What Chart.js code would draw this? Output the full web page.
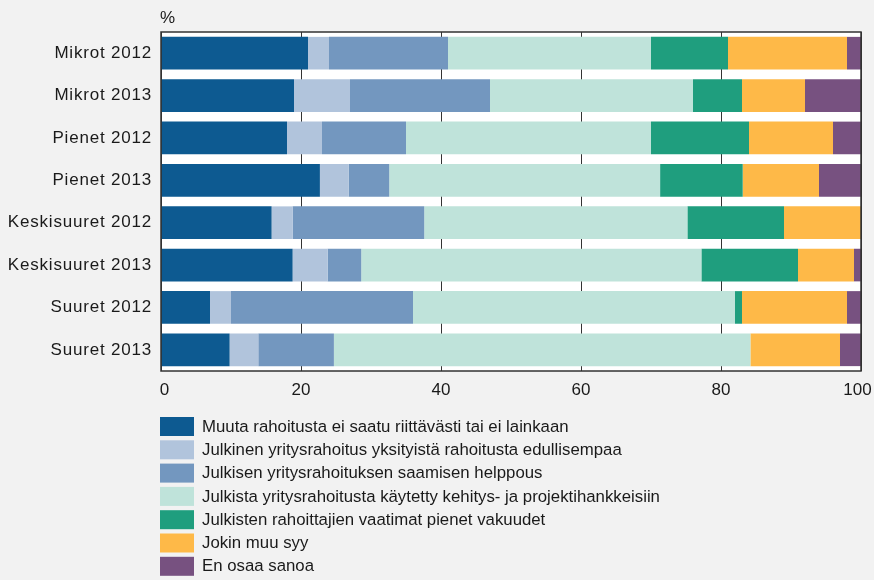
<!DOCTYPE html>
<html>
<head>
<meta charset="utf-8">
<script src="https://cdn.jsdelivr.net/npm/chart.js@4/dist/chart.umd.min.js"></script>
<style>
  html, body { margin: 0; padding: 0; background: #f2f2f2; }
  #wrap { width: 874px; height: 580px; }
</style>
</head>
<body>
<div id="wrap"><canvas id="myChart" width="874" height="580"></canvas></div>
<script>
// categories (rows, top to bottom)
var categories = ['Mikrot 2012', 'Mikrot 2013', 'Pienet 2012', 'Pienet 2013',
                  'Keskisuuret 2012', 'Keskisuuret 2013', 'Suuret 2012', 'Suuret 2013'];

// series values, % per row
var muutaRahoitusta  = [21, 19, 18, 22.7, 15.8, 18.8, 7, 9.8];
var edullisempaa     = [3, 8, 5, 4.1, 3, 5, 3, 4.1];
var helppous         = [17, 20, 12, 5.8, 18.8, 4.8, 26, 10.8];
var projektihankkeet = [29, 29, 35, 38.7, 37.6, 48.6, 46, 59.5];
var vakuudet         = [11, 7, 14, 11.8, 13.8, 13.8, 1, 0];
var muuSyy           = [17, 9, 12, 10.9, 11, 8, 15, 12.8];
var enOsaa           = [2, 8, 4, 6, 0, 1, 2, 3];

var seriesLabels = [
    'Muuta rahoitusta ei saatu riittävästi tai ei lainkaan',
    'Julkinen yritysrahoitus yksityistä rahoitusta edullisempaa',
    'Julkisen yritysrahoituksen saamisen helppous',
    'Julkista yritysrahoitusta käytetty kehitys- ja projektihankkeisiin',
    'Julkisten rahoittajien vaatimat pienet vakuudet',
    'Jokin muu syy',
    'En osaa sanoa'
];
var seriesData = [muutaRahoitusta, edullisempaa, helppous, projektihankkeet, vakuudet, muuSyy, enOsaa];
var colors = ['#0d5a91', '#b1c4dc', '#7397bf', '#bfe3da', '#1f9e7e', '#feb948', '#775180'];

var xTicks = [0, 20, 40, 60, 80, 100];

var FONT = '"Liberation Sans", Arial, sans-serif';
var TEXT = '#1a1a1a';

// white plot area, box border, % label and legend
var decor = {
    id: 'decor',
    afterLayout: function(chart) {
        // the row labels in the original are a bit wider spaced
        var ys = chart.scales.y;
        var origY = ys.drawLabels;
        ys.drawLabels = function(area) {
            var ctx = this.ctx;
            ctx.save();
            ctx.letterSpacing = '0.8px';
            origY.call(this, area);
            ctx.restore();
        };
        // first and last x labels sit a little inside the box
        var xs = chart.scales.x;
        var origX = xs._computeLabelItems;
        xs._computeLabelItems = function(area) {
            var items = origX.call(this, area);
            if (items.length) {
                items[0].options.translation[0] += 3.5;
                items[items.length - 1].options.translation[0] -= 3.5;
            }
            return items;
        };
    },
    beforeDraw: function(chart) {
        var a = chart.chartArea, ctx = chart.ctx;
        ctx.save();
        ctx.fillStyle = '#ffffff';
        ctx.fillRect(a.left, a.top, a.right - a.left, a.bottom - a.top);
        ctx.restore();
    },
    afterDraw: function(chart) {
        var a = chart.chartArea, ctx = chart.ctx;
        ctx.save();
        ctx.strokeStyle = '#333333';
        ctx.lineWidth = 1.5;
        ctx.strokeRect(a.left, a.top, a.right - a.left, a.bottom - a.top);

        ctx.fillStyle = TEXT;
        ctx.font = '17px ' + FONT;
        ctx.textBaseline = 'alphabetic';
        ctx.textAlign = 'left';
        ctx.fillText('%', 160, 23);

        // legend
        var x0 = 160, y0 = 417, pitch = 23.3;
        ctx.font = '16.8px ' + FONT;
        chart.data.datasets.forEach(function(ds, i) {
            var y = y0 + i * pitch;
            ctx.fillStyle = ds.backgroundColor;
            ctx.fillRect(x0, y, 34, 19);
            ctx.fillStyle = TEXT;
            ctx.textBaseline = 'middle';
            ctx.fillText(ds.label, 202, y + 10);
        });
        ctx.restore();
    }
};

new Chart(document.getElementById('myChart'), {
    type: 'bar',
    data: {
        labels: categories,
        datasets: seriesData.map(function(d, i) {
            return {
                label: seriesLabels[i],
                data: d,
                backgroundColor: colors[i],
                borderWidth: 0,
                barPercentage: 0.77,
                categoryPercentage: 1
            };
        })
    },
    options: {
        indexAxis: 'y',
        responsive: false,
        animation: false,
        layout: { padding: { top: 32, right: 13, left: 0, bottom: 0 } },
        plugins: {
            legend: { display: false },
            tooltip: { enabled: false }
        },
        scales: {
            x: {
                stacked: true,
                min: 0,
                max: 100,
                afterBuildTicks: function(scale) {
                    scale.ticks = xTicks.map(function(v) { return { value: v }; });
                },
                afterFit: function(scale) {
                    scale.height = 209;
                    scale.paddingRight = 0;
                    scale.paddingLeft = 0;
                },
                grid: { color: '#333333', lineWidth: 1, drawTicks: false },
                border: { display: false },
                ticks: { color: TEXT, font: { family: FONT, size: 17 }, padding: 9, maxRotation: 0 }
            },
            y: {
                stacked: true,
                afterFit: function(scale) { scale.width = 161; },
                grid: { display: false, drawTicks: false },
                border: { display: false },
                ticks: { color: TEXT, font: { family: FONT, size: 17 }, padding: 9 }
            }
        }
    },
    plugins: [decor]
});
</script>
</body>
</html>
